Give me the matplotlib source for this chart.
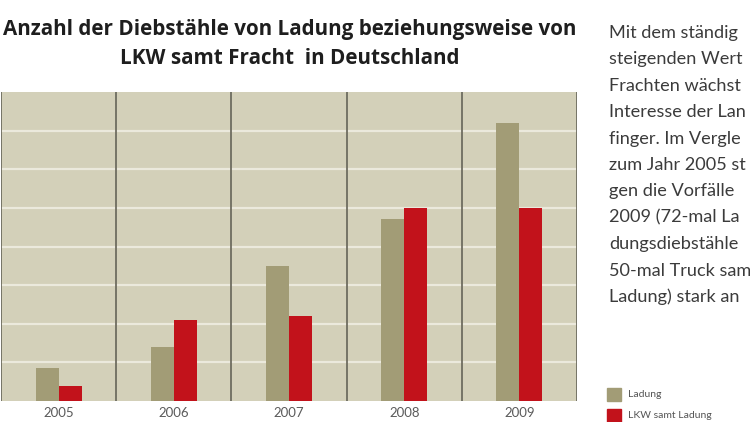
import matplotlib
matplotlib.use("Agg")
import matplotlib.pyplot as plt
import numpy as np

# Diebstähle je Jahr
years = ["2005", "2006", "2007", "2008", "2009"]
ladung = [8.5, 14, 35, 47, 72]
lkw_samt_ladung = [4, 21, 22, 50, 50]
grid_values = [10, 20, 30, 40, 50, 60, 70]

title = "Anzahl der Diebstähle von Ladung beziehungsweise von\nLKW samt Fracht  in Deutschland"
# rechter Text, so weit er im Bild sichtbar ist
side_text = [
    "Mit dem ständig",
    "steigenden Wert",
    "Frachten wächst",
    "Interesse der Lan",
    "finger. Im Vergle",
    "zum Jahr 2005 st",
    "gen die Vorfälle",
    "2009 (72-mal La",
    "dungsdiebstähle",
    "50-mal Truck sam",
    "Ladung) stark an",
]
legend_labels = ["Ladung", "LKW samt Ladung"]

BG = "#d3d0b9"
OLIVE = "#a29c76"
RED = "#c2121b"
GRID = "#ebe9dc"
SEP = "#6e6d60"
BODY = ["Lato", "DejaVu Sans"]

W, H = 750, 422
fig = plt.figure(figsize=(W / 100, H / 100), dpi=100)
fig.patch.set_facecolor("white")

ax = fig.add_axes([1 / W, 1 - 401 / H, 576 / W, 309 / H])
ax.set_facecolor(BG)
x = np.arange(len(years))
bw = 0.2
ax.bar(x - bw / 2, ladung, bw, color=OLIVE, zorder=3)
ax.bar(x + bw / 2, lkw_samt_ladung, bw, color=RED, zorder=3)
for g in grid_values:
    ax.axhline(g, color=GRID, lw=1.6, zorder=1)
for b in np.arange(-0.5, len(years) + 0.5, 1.0):
    ax.axvline(b, color=SEP, lw=1.3, zorder=2)
ax.set_xlim(-0.5, len(years) - 0.5)
ax.set_ylim(0, 80)
ax.set_xticks([])
ax.set_yticks([])
for s in ax.spines.values():
    s.set_visible(False)

# Jahreszahlen ganz unten
for i, yr in enumerate(years):
    ax.annotate(yr, (i, 0), xycoords="data", xytext=(0, -4),
                textcoords="offset points", ha="center", va="top",
                fontsize=9.5, color="#5a5a5a", family=BODY)

fig.text(290 / W, 1 - 44 / H, title, ha="center", va="center",
         fontsize=14.9, fontweight="bold", family=["Open Sans", "DejaVu Sans"],
         color="#1e1e1e", linespacing=1.5)

for i, line in enumerate(side_text):
    fig.text(609 / W, 1 - (33 + i * 26.4) / H, line, ha="left", va="center",
             fontsize=13.1, family=BODY, color="#3b3b3b")

# Legende
for i, (lab, col) in enumerate(zip(legend_labels, [OLIVE, RED])):
    y0 = 388 + i * 21
    fig.patches.append(plt.Rectangle((607 / W, 1 - (y0 + 13) / H), 14 / W, 13 / H,
                                     transform=fig.transFigure, color=col))
    fig.text(628 / W, 1 - (y0 + 6.5) / H, lab, ha="left", va="center",
             fontsize=7.5, family=BODY, color="#555555")

fig.savefig("out.png", dpi=100)
